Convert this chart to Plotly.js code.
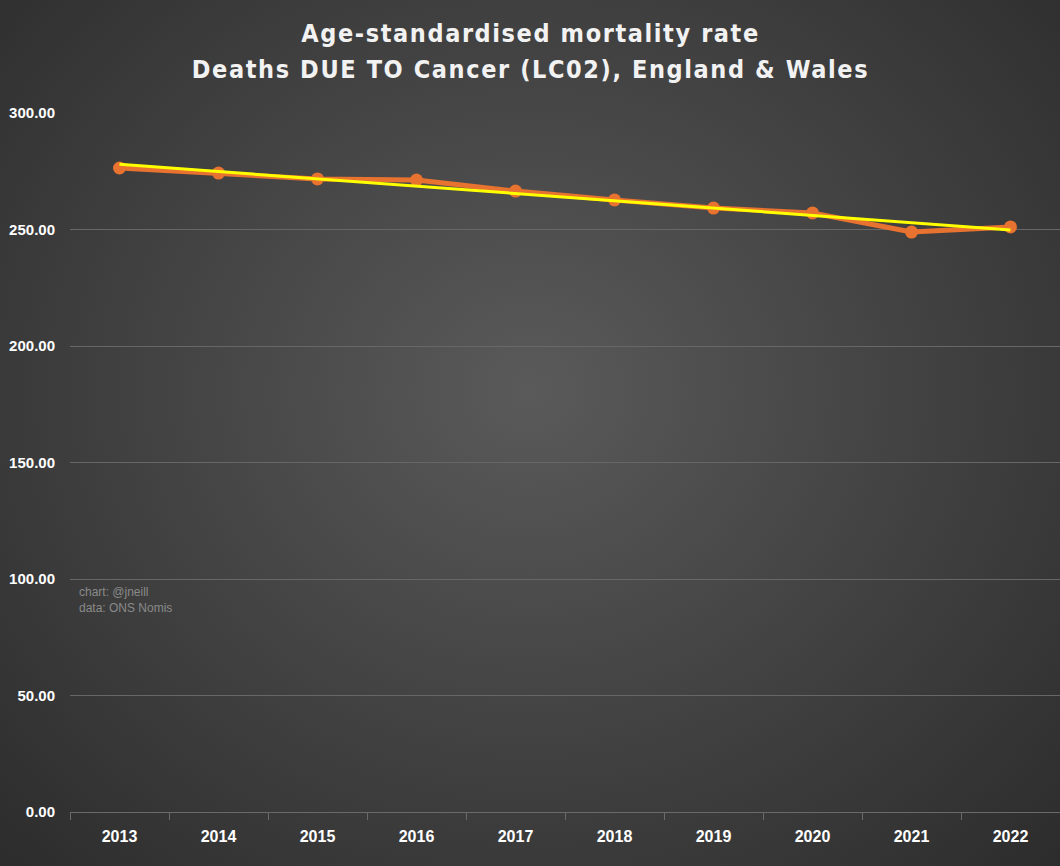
<!DOCTYPE html>
<html>
<head>
<meta charset="utf-8">
<script src="https://cdn.plot.ly/plotly-3.0.1.min.js"></script>
<style>
html,body{margin:0;padding:0;}
#chart{width:1060px;height:866px;background:radial-gradient(ellipse at 50% 45%, #5a5a5a 0%, #454545 45%, #2c2c2c 100%);}
#chart .annotation[data-index="0"] text, #chart .annotation[data-index="1"] text {letter-spacing: 1.6px;}
</style>
</head>
<body>
<div id="chart"></div>
<script>
const years = ["2013","2014","2015","2016","2017","2018","2019","2020","2021","2022"];
const rates = [276.4, 274.2, 271.7, 271.2, 266.5, 262.7, 259.2, 257.1, 248.9, 251.1];
const titleLines = ["Age-standardised mortality rate", "Deaths DUE TO Cancer (LC02), England &amp; Wales"];

// Linear trendline (least squares) derived from the series
const n = rates.length;
const xs = rates.map((_, i) => i);
const mx = xs.reduce((a, b) => a + b, 0) / n;
const my = rates.reduce((a, b) => a + b, 0) / n;
let sxy = 0, sxx = 0;
for (let i = 0; i < n; i++) { sxy += (xs[i] - mx) * (rates[i] - my); sxx += (xs[i] - mx) ** 2; }
const slope = sxy / sxx, icpt = my - slope * mx;
const trend = xs.map(x => icpt + slope * x);

const data = [
  {x: years, y: rates, type: 'scatter', mode: 'lines+markers',
   line: {color: '#E8722F', width: 5}, marker: {color: '#E8722F', size: 13},
   hoverinfo: 'x+y'},
  {x: years, y: trend, type: 'scatter', mode: 'lines',
   line: {color: '#FFFF00', width: 3}, hoverinfo: 'skip'}
];

const titleFont = {family: 'DejaVu Sans Condensed, DejaVu Sans, sans-serif', size: 25, color: '#f2f2f2', weight: 'bold'};

const layout = {
  width: 1060, height: 866,
  paper_bgcolor: 'rgba(0,0,0,0)', plot_bgcolor: 'rgba(0,0,0,0)',
  margin: {l: 70, r: 0, t: 113, b: 54},
  showlegend: false,
  xaxis: {
    type: 'category', range: [-0.5, 9.5],
    showgrid: false, zeroline: false,
    showline: true, linecolor: '#6a6a6a', linewidth: 1,
    ticks: 'outside', tickson: 'boundaries', ticklen: 7, tickcolor: '#6a6a6a',
    ticklabelstandoff: 10,
    tickfont: {family: 'Liberation Sans, Arial, sans-serif', size: 16, color: '#ffffff', weight: 'bold'},
    fixedrange: true
  },
  yaxis: {
    range: [0, 300], dtick: 50, tickformat: '.2f',
    showgrid: true, gridcolor: '#676767', gridwidth: 1,
    zeroline: false, showline: false, ticks: '',
    ticklabelstandoff: 14,
    tickfont: {family: 'Liberation Sans, Arial, sans-serif', size: 15, color: '#ffffff', weight: 'bold'},
    fixedrange: true
  },
  annotations: [
    {text: titleLines[0], showarrow: false, xref: 'paper', yref: 'paper',
     x: 0.5 - 0.5 * 70 / 990, xanchor: 'center', y: 1 + (113 - 33) / 699, yanchor: 'middle',
     font: titleFont},
    {text: titleLines[1], showarrow: false, xref: 'paper', yref: 'paper',
     x: 0.5 - 0.5 * 70 / 990, xanchor: 'center', y: 1 + (113 - 70) / 699, yanchor: 'middle',
     font: titleFont},
    {text: 'chart: @jneill<br>data: ONS Nomis', showarrow: false,
     xref: 'paper', yref: 'paper', x: 0.007, y: 0.327, xanchor: 'left', yanchor: 'top',
     align: 'left', font: {family: 'Liberation Sans, Arial, sans-serif', size: 12, color: '#8a8a8a'}}
  ]
};

Plotly.newPlot('chart', data, layout, {displayModeBar: false, staticPlot: true});
</script>
</body>
</html>
